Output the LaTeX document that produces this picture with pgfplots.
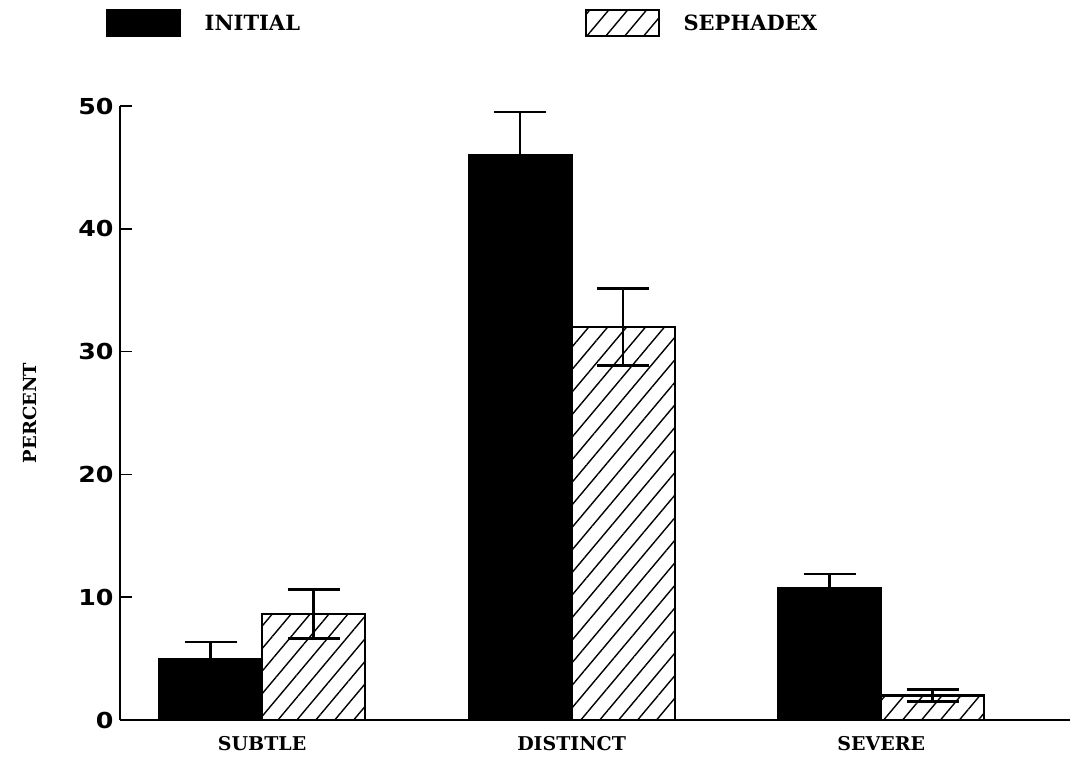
\documentclass[border=0pt]{standalone}
\usepackage{fontspec}
\setmainfont{DejaVu Serif}
\newfontfamily\numfont{DejaVu Sans}[FakeStretch=1.15]
\usepackage{pgfplots}
\pgfplotsset{compat=1.18}
\usetikzlibrary{patterns.meta}
\begin{document}
\begin{tikzpicture}
\path[use as bounding box, fill=white] (-120pt,-38pt) rectangle (953pt,720pt);
\begin{axis}[
  scale only axis, width=950pt, height=614pt,
  anchor=south west, at={(0pt,0pt)},
  xmin=-0.459, xmax=2.61, ymin=0, ymax=50,
  axis x line=bottom, axis y line=left,
  axis line style={-, line width=2pt, black},
  ybar, bar width=103pt,
  xtick={0,1,2}, xticklabels={SUBTLE,DISTINCT,SEVERE},
  x tick style={draw=none},
  ytick={0,10,20,30,40,50},
  y tick style={line width=1.5pt, black},
  tick align=inside, major tick length=12pt,
  xticklabel style={font=\bfseries\fontsize{19}{22}\selectfont, anchor=north, yshift=-13pt},
  yticklabel style={font=\numfont\bfseries\fontsize{22}{24}\selectfont, anchor=east, xshift=-3pt},
  /pgf/number format/assume math mode=true,
  ylabel={PERCENT},
  ylabel style={font=\bfseries\fontsize{18}{22}\selectfont, at={(axis description cs:-0.0947,0.5)}, anchor=center},
  legend columns=2,
  legend style={at={(axis description cs:-0.0179,1.135)}, anchor=west, draw=none, fill=none,
    font=\bfseries\fontsize{21}{24}\selectfont,
    nodes={inner sep=0pt},
    /tikz/column 1/.style={column sep=24pt},
    /tikz/column 2/.style={column sep=285pt},
    /tikz/column 3/.style={column sep=24pt}},
  legend image code/.code={\draw[#1, line width=1.5pt] (0pt,-13pt) rectangle (73pt,13pt);},
]
\addplot[fill=black, draw=black, line width=2.2pt, bar shift=-51.5pt,
  error bars/.cd, y dir=both, y explicit,
  error bar style={line width=2.5pt, black},
  error mark options={rotate=90, black, mark size=26pt, line width=2.5pt}]
  coordinates {(0,5.0) +- (0,1.35) (1,46.0) +- (0,3.5) (2,10.75) +- (0,1.15)};
\addlegendentry{INITIAL}
\addplot[draw=black, line width=2.2pt, bar shift=51.5pt,
  pattern={Lines[angle=50, distance=14.5pt, line width=1.4pt]},
  error bars/.cd, y dir=both, y explicit,
  error bar style={line width=2.5pt, black},
  error mark options={rotate=90, black, mark size=26pt, line width=2.5pt}]
  coordinates {(0,8.63) +- (0,2.0) (1,32.0) +- (0,3.15) (2,2.0) +- (0,0.5)};
\addlegendentry{SEPHADEX}
\end{axis}
\end{tikzpicture}
\end{document}
